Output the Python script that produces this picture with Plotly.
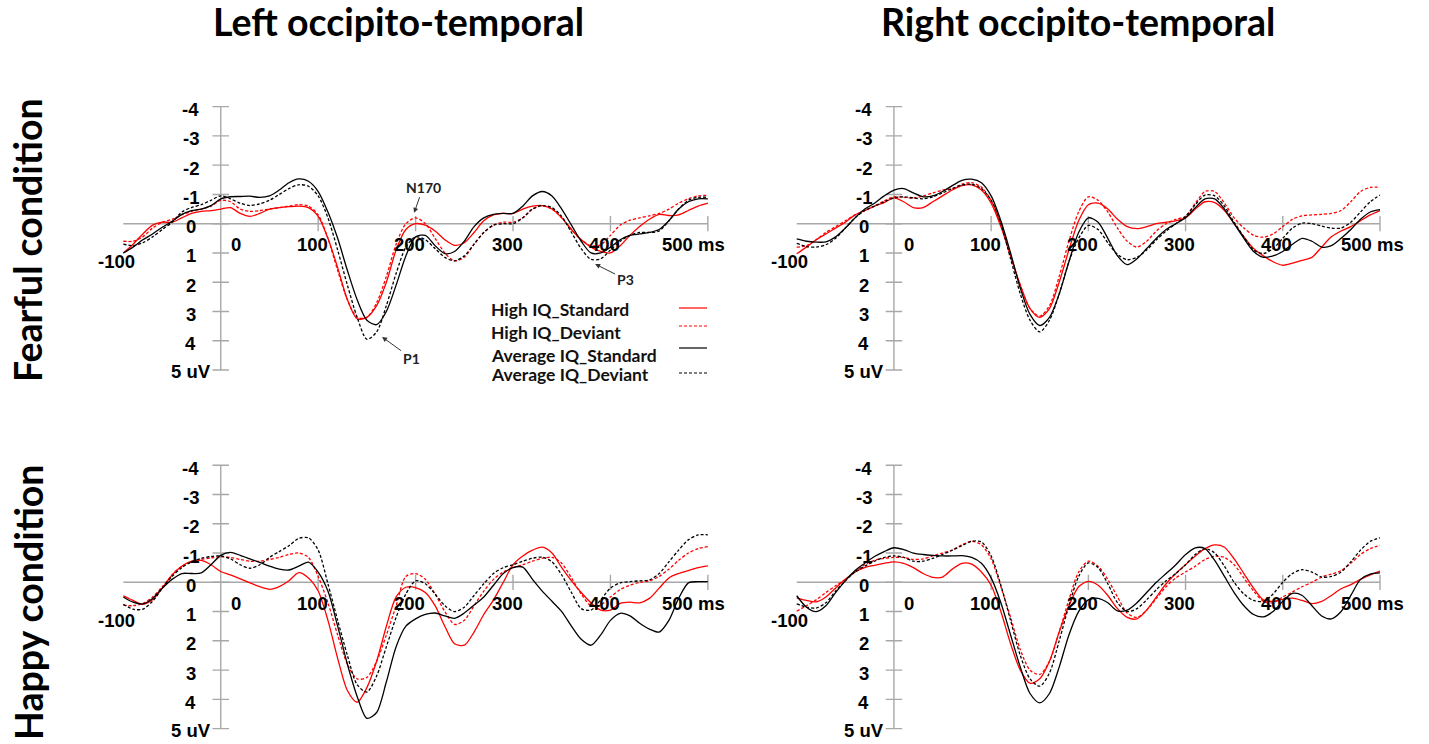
import plotly.graph_objects as go

# ---------------- data (uV, negative plotted upward) ----------------
time_ms = list(range(-100, 501, 10))

# Fearful condition - Left occipito-temporal
fl_high_std = [1.0, 0.7, 0.35, 0.05, -0.05, -0.05, -0.2, -0.35, -0.42, -0.45,
               -0.5, -0.55, -0.35, -0.25, -0.35, -0.5, -0.55, -0.58, -0.6, -0.55,
               -0.25, 0.5, 1.5, 2.6, 3.25, 3.2, 2.8, 2.0, 0.9, 0.2,
               0.0, 0.05, 0.25, 0.55, 0.74, 0.65, 0.3, -0.1, -0.3, -0.35,
               -0.35, -0.5, -0.6, -0.62, -0.5, -0.2, 0.2, 0.55, 0.8, 0.95,
               1.0, 0.75, 0.4, 0.1, -0.15, -0.32, -0.28, -0.3, -0.45, -0.6, -0.7]
fl_high_dev = [0.6, 0.6, 0.45, 0.15, -0.05, -0.15, -0.3, -0.42, -0.5, -0.6,
               -0.8, -0.75, -0.5, -0.42, -0.45, -0.5, -0.55, -0.6, -0.65, -0.6,
               -0.3, 0.5, 1.6, 2.6, 3.2, 3.2, 2.7, 1.8, 0.7, 0.0,
               -0.2, 0.0, 0.5, 1.0, 1.27, 1.15, 0.7, 0.3, 0.05, -0.05,
               -0.05, -0.2, -0.5, -0.62, -0.5, -0.2, 0.2, 0.55, 0.75, 0.72,
               0.4, 0.05, -0.12, -0.2, -0.27, -0.35, -0.5, -0.7, -0.85, -0.95, -0.97]
fl_avg_std = [1.0, 0.8, 0.55, 0.35, 0.12, -0.08, -0.32, -0.45, -0.5, -0.62,
              -0.85, -0.92, -0.93, -0.94, -0.9, -0.95, -1.15, -1.4, -1.53, -1.45,
              -1.1, -0.4, 0.5, 1.6, 2.6, 3.3, 3.45, 3.0, 2.1, 1.1,
              0.45, 0.4, 0.75, 1.02, 0.95, 0.6, 0.1, -0.2, -0.32, -0.35,
              -0.35, -0.6, -0.95, -1.1, -0.95, -0.5, 0.05, 0.6, 1.0, 1.0,
              0.8, 0.55, 0.4, 0.35, 0.3, 0.2, -0.1, -0.5, -0.75, -0.85, -0.85]
fl_avg_dev = [0.7, 0.75, 0.65, 0.45, 0.2, -0.05, -0.4, -0.55, -0.65, -0.8,
              -0.95, -0.85, -0.7, -0.62, -0.68, -0.8, -1.0, -1.2, -1.33, -1.28,
              -0.95, -0.2, 0.9, 2.1, 3.2, 3.95, 3.7, 2.8, 1.7, 0.8,
              0.45, 0.55, 0.85, 1.15, 1.27, 1.1, 0.7, 0.3, 0.05, 0.0,
              0.0, -0.2, -0.5, -0.62, -0.55, -0.25, 0.3, 0.85, 1.22, 1.2,
              0.9, 0.6, 0.4, 0.3, 0.3, 0.25, -0.1, -0.5, -0.8, -0.9, -0.9]

# Fearful condition - Right occipito-temporal
fr_high_std = [1.03, 0.8, 0.55, 0.35, 0.15, -0.05, -0.3, -0.45, -0.6, -0.72,
               -0.88, -0.75, -0.55, -0.55, -0.75, -0.95, -1.15, -1.3, -1.33, -1.15,
               -0.7, 0.1, 1.1, 2.1, 2.9, 3.2, 2.9, 2.0, 0.9, -0.1,
               -0.65, -0.7, -0.5, -0.15, 0.1, 0.17, 0.1, 0.0, -0.05, -0.1,
               -0.2, -0.5, -0.75, -0.72, -0.45, 0.0, 0.45, 0.85, 1.1, 1.3,
               1.42, 1.35, 1.25, 1.15, 0.8, 0.45, 0.25, 0.1, -0.1, -0.3, -0.45]
fr_high_dev = [0.8, 0.75, 0.55, 0.3, 0.1, -0.1, -0.3, -0.45, -0.6, -0.78,
               -0.92, -0.9, -0.88, -0.95, -1.05, -1.15, -1.2, -1.35, -1.4, -1.25,
               -0.8, 0.0, 1.1, 2.1, 2.9, 3.16, 2.8, 1.8, 0.6, -0.4,
               -0.92, -0.8, -0.4, 0.15, 0.6, 0.8, 0.6, 0.25, 0.0, -0.15,
               -0.25, -0.7, -1.1, -1.1, -0.7, -0.2, 0.15, 0.4, 0.46, 0.35,
               0.1, -0.15, -0.27, -0.3, -0.32, -0.35, -0.45, -0.75, -1.1, -1.24, -1.25]
fr_avg_std = [0.52, 0.6, 0.63, 0.62, 0.45, 0.15, -0.2, -0.5, -0.7, -0.95,
              -1.15, -1.2, -1.05, -0.92, -0.95, -1.1, -1.3, -1.48, -1.52, -1.4,
              -0.95, -0.1, 1.0, 2.2, 3.1, 3.48, 3.2, 2.4, 1.3, 0.3,
              -0.2, -0.05, 0.5, 1.1, 1.4, 1.2, 0.85, 0.5, 0.2, 0.0,
              -0.2, -0.55, -0.85, -0.85, -0.5, 0.0, 0.5, 0.95, 1.15, 1.1,
              0.95, 0.7, 0.5, 0.6, 0.8, 0.75, 0.5, 0.2, -0.15, -0.4, -0.48]
fr_avg_dev = [0.67, 0.78, 0.8, 0.72, 0.5, 0.15, -0.2, -0.45, -0.6, -0.75,
              -0.88, -0.92, -0.88, -0.85, -0.92, -1.05, -1.2, -1.32, -1.35, -1.2,
              -0.8, 0.0, 1.2, 2.4, 3.3, 3.7, 3.3, 2.4, 1.3, 0.5,
              0.06, 0.2, 0.65, 1.05, 1.23, 1.15, 0.9, 0.55, 0.25, 0.0,
              -0.25, -0.65, -0.98, -0.95, -0.6, -0.05, 0.45, 0.9, 1.02, 0.85,
              0.5, 0.15, -0.02, 0.0, 0.08, 0.15, 0.15, -0.05, -0.4, -0.75, -0.98]

# Happy condition - Left occipito-temporal
hl_high_std = [0.46, 0.62, 0.75, 0.6, 0.2, -0.25, -0.55, -0.72, -0.75, -0.6,
               -0.37, -0.25, -0.12, 0.02, 0.15, 0.24, 0.15, -0.05, -0.33, -0.15,
               0.3, 1.3, 2.6, 3.7, 4.1, 3.6, 2.7, 1.5, 0.5, 0.17,
               0.18, 0.35, 0.8, 1.5, 2.1, 2.15, 1.7, 1.1, 0.6, 0.0,
               -0.6, -0.9, -1.1, -1.2, -1.0, -0.5, -0.05, 0.35, 0.7, 0.95,
               0.95, 0.72, 0.68, 0.7, 0.55, 0.2, -0.15, -0.3, -0.4, -0.5, -0.56]
hl_high_dev = [0.78, 0.8, 0.72, 0.5, 0.15, -0.25, -0.55, -0.7, -0.78, -0.83,
               -0.87, -0.85, -0.78, -0.72, -0.72, -0.78, -0.85, -0.95, -1.0, -0.85,
               -0.2, 0.7, 1.8, 2.8, 3.3, 3.25, 2.7, 1.8, 0.8, -0.2,
               -0.3, -0.1, 0.4, 1.0, 1.44, 1.3, 0.8, 0.3, -0.1, -0.35,
               -0.5, -0.6, -0.72, -0.82, -0.85, -0.65, -0.15, 0.4, 0.8, 0.78,
               0.5, 0.25, 0.1, 0.0, -0.05, -0.2, -0.45, -0.75, -1.0, -1.15, -1.22]
hl_avg_std = [0.5, 0.68, 0.74, 0.55, 0.2, -0.1, -0.3, -0.3, -0.32, -0.6,
              -0.92, -1.02, -0.92, -0.8, -0.68, -0.55, -0.45, -0.42, -0.55, -0.69,
              -0.35, 0.3, 1.5, 2.8, 3.9, 4.65, 4.45, 3.4, 2.2, 1.5,
              1.25, 1.1, 1.05, 1.15, 1.23, 1.05, 0.78, 0.5, 0.1, -0.3,
              -0.5, -0.52, -0.1, 0.3, 0.65, 1.0, 1.5, 1.95, 2.15, 1.8,
              1.3, 1.06, 1.15, 1.4, 1.6, 1.7, 1.3, 0.55, 0.02, -0.02, -0.02]
hl_avg_dev = [0.75, 0.92, 0.92, 0.65, 0.2, -0.2, -0.5, -0.7, -0.82, -0.88,
              -0.9, -0.8, -0.6, -0.48, -0.6, -0.85, -1.05, -1.25, -1.5, -1.52,
              -1.1, 0.05, 1.3, 2.5, 3.5, 3.75, 3.2, 2.2, 1.2, 0.4,
              -0.05, 0.05, 0.4, 0.8, 1.0, 0.85, 0.45, 0.05, -0.3, -0.5,
              -0.6, -0.72, -0.82, -0.86, -0.7, -0.25, 0.35, 0.9, 0.95, 0.6,
              0.2, 0.02, -0.02, -0.05, -0.08, -0.3, -0.7, -1.1, -1.45, -1.62, -1.62]

# Happy condition - Right occipito-temporal
hr_high_std = [0.54, 0.62, 0.67, 0.5, 0.2, -0.1, -0.35, -0.5, -0.58, -0.65,
               -0.7, -0.65, -0.5, -0.3, -0.17, -0.18, -0.45, -0.65, -0.62, -0.35,
               0.1, 1.0, 2.1, 3.0, 3.45, 3.3, 2.7, 1.7, 0.8, 0.15,
               -0.03, 0.1, 0.45, 0.9, 1.2, 1.25, 0.95, 0.5, 0.05, -0.3,
               -0.6, -0.9, -1.15, -1.28, -1.2, -0.8, -0.3, 0.2, 0.6, 0.65,
               0.58, 0.54, 0.62, 0.73, 0.65, 0.45, 0.22, 0.08, -0.1, -0.25, -0.38]
hr_high_dev = [0.99, 0.8, 0.6, 0.35, 0.12, -0.1, -0.35, -0.6, -0.75, -0.82,
               -0.85, -0.85, -0.78, -0.8, -0.9, -1.0, -1.1, -1.28, -1.4, -1.28,
               -0.8, 0.15, 1.2, 2.3, 3.0, 3.15, 2.7, 1.7, 0.6, -0.35,
               -0.72, -0.55, -0.1, 0.5, 1.05, 1.2, 0.95, 0.55, 0.15, -0.15,
               -0.35, -0.55, -0.78, -0.89, -0.85, -0.6, -0.15, 0.3, 0.65, 0.7,
               0.5, 0.33, 0.15, 0.0, -0.18, -0.28, -0.4, -0.65, -0.95, -1.15, -1.26]
hr_avg_std = [0.46, 0.85, 1.0, 0.8, 0.35, -0.05, -0.4, -0.65, -0.88, -1.05,
              -1.18, -1.12, -1.0, -0.95, -0.92, -0.9, -0.9, -0.91, -0.85, -0.65,
              -0.15, 0.7, 1.8, 2.9, 3.8, 4.12, 3.8, 2.9, 1.8, 1.0,
              0.6, 0.55, 0.7, 0.98, 0.95, 0.7, 0.35, 0.0, -0.3, -0.6,
              -0.95, -1.18, -1.15, -0.75, -0.2, 0.35, 0.8, 1.1, 1.18, 1.0,
              0.65, 0.38, 0.45, 0.8, 1.15, 1.25, 1.0, 0.45, -0.1, -0.28, -0.32]
hr_avg_dev = [0.74, 0.85, 0.88, 0.7, 0.3, -0.05, -0.35, -0.55, -0.72, -0.85,
              -0.9, -0.85, -0.72, -0.72, -0.82, -0.95, -1.1, -1.25, -1.4, -1.38,
              -0.9, 0.1, 1.3, 2.5, 3.3, 3.55, 3.1, 2.0, 0.8, -0.2,
              -0.66, -0.5, 0.05, 0.7, 1.0, 0.9, 0.6, 0.25, -0.05, -0.3,
              -0.6, -0.95, -1.15, -1.0, -0.55, 0.0, 0.4, 0.62, 0.65, 0.4,
              0.0, -0.3, -0.43, -0.35, -0.18, -0.2, -0.35, -0.7, -1.1, -1.4, -1.52]

series_names = ["High IQ_Standard", "High IQ_Deviant", "Average IQ_Standard", "Average IQ_Deviant"]
panel_data = [
    [fl_high_std, fl_high_dev, fl_avg_std, fl_avg_dev],
    [fr_high_std, fr_high_dev, fr_avg_std, fr_avg_dev],
    [hl_high_std, hl_high_dev, hl_avg_std, hl_avg_dev],
    [hr_high_std, hr_high_dev, hr_avg_std, hr_avg_dev],
]

column_titles = ["Left occipito-temporal", "Right occipito-temporal"]
row_titles = ["Fearful condition", "Happy condition"]

ytick_vals = [-4, -3, -2, -1, 0, 1, 2, 3, 4, 5]
ytick_text = ["-4", "-3", "-2", "-1", "0", "1", "2", "3", "4", "5 uV"]
xtick_vals = [-100, 0, 100, 200, 300, 400, 500]
xtick_text = ["-100", "0", "100", "200", "300", "400", "500 ms"]

# ---------------- geometry / styles ----------------
W, H = 1429, 744


def fx(px):
    return px / W


def fy(py):
    return 1 - py / H


series_color = ["#ff0000", "#ff0000", "#000000", "#000000"]
series_dash = ["solid", "3px,2px", "solid", "3px,2px"]
axis_color = "#a8a8a8"
tick_font = dict(family="Liberation Sans, Arial, sans-serif", size=18.5, color="#000000")
title_font = dict(family="Lato, Noto Sans, sans-serif", size=37.5, color="#000000")
row_font = dict(family="Lato, Noto Sans, sans-serif", size=37.5, color="#000000")

X_RANGE = [-110, 510]
Y_RANGE = [5.2, -4.2]
# page-pixel geometry of the panels (left, right) / (top, bottom)
x_px = {"L": (113.6, 717.6), "R": (787.0, 1389.7)}
y_px = {"T": (100.8, 375.85), "B": (459.4, 734.45)}

panels = [("L", "T"), ("R", "T"), ("L", "B"), ("R", "B")]
last_label_shift = [-14, -7, -14, -7]
x_label_shift = [-7, 15, -6, -6, -6, -6, None]

fig = go.Figure()
layout_axes = {}
shapes = []
annotations = []

for i, (col, row) in enumerate(panels):
    n = "" if i == 0 else str(i + 1)
    xa, ya = "x" + n, "y" + n
    l, r = x_px[col]
    t, b = y_px[row]
    layout_axes["xaxis" + n] = dict(domain=[fx(l), fx(r)], range=X_RANGE, visible=False,
                                    anchor=ya, fixedrange=True)
    layout_axes["yaxis" + n] = dict(domain=[fy(b), fy(t)], range=Y_RANGE, visible=False,
                                    anchor=xa, fixedrange=True)
    # axis lines
    shapes.append(dict(type="line", xref=xa, yref=ya, x0=xtick_vals[0], x1=xtick_vals[-1], y0=0, y1=0,
                       line=dict(color=axis_color, width=1.4), layer="below"))
    shapes.append(dict(type="line", xref=xa, yref=ya, x0=0, x1=0, y0=ytick_vals[0], y1=ytick_vals[-1],
                       line=dict(color=axis_color, width=1.4), layer="below"))
    for v in ytick_vals:
        shapes.append(dict(type="line", xref=xa, yref=ya, x0=-8.5, x1=8.5, y0=v, y1=v,
                           line=dict(color=axis_color, width=1.4), layer="below"))
    for v in xtick_vals[2:]:
        shapes.append(dict(type="line", xref=xa, yref=ya, x0=v, x1=v, y0=-0.26, y1=0.26,
                           line=dict(color=axis_color, width=1.4), layer="below"))
    # tick labels
    for v, txt in zip(ytick_vals, ytick_text):
        annotations.append(dict(x=0, y=v, xref=xa, yref=ya, text="<b>%s</b>" % txt, showarrow=False,
                                xanchor="center", yanchor="middle", xshift=-30,
                                yshift=-1.5 if v == 5 else -3, font=tick_font))
    for k, (v, txt) in enumerate(zip(xtick_vals, xtick_text)):
        sh = x_label_shift[k] if x_label_shift[k] is not None else last_label_shift[i]
        annotations.append(dict(x=v, y=0, xref=xa, yref=ya, text="<b>%s</b>" % txt, showarrow=False,
                                xanchor="center", yanchor="middle", xshift=sh,
                                yshift=-38 if v == -100 else -21, font=tick_font))
    # curves
    for s in range(4):
        fig.add_trace(go.Scatter(x=time_ms, y=panel_data[i][s], xaxis=xa, yaxis=ya, mode="lines",
                                 name=series_names[s], showlegend=False,
                                 line=dict(color=series_color[s], dash=series_dash[s], width=1.3,
                                           shape="spline", smoothing=0.8)))

# column and row titles
annotations.append(dict(x=fx(398), y=fy(22), xref="paper", yref="paper", text="<b>%s</b>" % column_titles[0],
                        showarrow=False, xanchor="center", yanchor="middle", font=title_font))
annotations.append(dict(x=fx(1078), y=fy(22), xref="paper", yref="paper", text="<b>%s</b>" % column_titles[1],
                        showarrow=False, xanchor="center", yanchor="middle", font=title_font))
annotations.append(dict(x=fx(28), y=fy(240), xref="paper", yref="paper", text="<b>%s</b>" % row_titles[0],
                        showarrow=False, textangle=-90, xanchor="center", yanchor="middle", font=row_font))
annotations.append(dict(x=fx(28), y=fy(602), xref="paper", yref="paper", text="<b>%s</b>" % row_titles[1],
                        showarrow=False, textangle=-90, xanchor="center", yanchor="middle", font=row_font))

# component labels with arrows (top-left panel)
peak_labels = [("N170", 198.5, -0.37, 207.7, -1.25), ("P1", 165.6, 3.87, 195.4, 4.59), ("P3", 384.3, 1.38, 415.0, 1.89)]
for txt, px_, py_, tx, ty in peak_labels:
    annotations.append(dict(x=px_, y=py_, xref="x", yref="y", ax=tx, ay=ty, axref="x", ayref="y",
                            text="<b>%s</b>" % txt, showarrow=True, arrowhead=2, arrowsize=1,
                            arrowwidth=1, arrowcolor="#333333", standoff=0,
                            font=dict(family="Lato, Noto Sans, sans-serif", size=14, color="#222222")))

# legend (text left, line sample right)
legend_text_y = [309, 332, 355, 374]
legend_line_y = [308, 326, 348, 373]
for s in range(4):
    annotations.append(dict(x=fx(489), y=fy(legend_text_y[s]), xref="paper", yref="paper",
                            text="<b>%s</b>" % series_names[s], showarrow=False, xanchor="left", yanchor="middle",
                            font=dict(family="Lato, Noto Sans, sans-serif", size=17.5, color="#111111")))
    shapes.append(dict(type="line", xref="paper", yref="paper", x0=fx(679), x1=fx(707),
                       y0=fy(legend_line_y[s]), y1=fy(legend_line_y[s]),
                       line=dict(color=series_color[s], dash=series_dash[s], width=1.2)))

fig.update_layout(width=W, height=H, margin=dict(l=0, r=0, t=0, b=0), autosize=False,
                  paper_bgcolor="white", plot_bgcolor="white", showlegend=False,
                  shapes=shapes, annotations=annotations, **layout_axes)

# remove the default page margin so the figure sits at the window's top-left corner
fig.write_html("out.html", config={"displayModeBar": False},
               post_script="document.body.style.margin='0px';document.body.style.overflow='hidden';")
